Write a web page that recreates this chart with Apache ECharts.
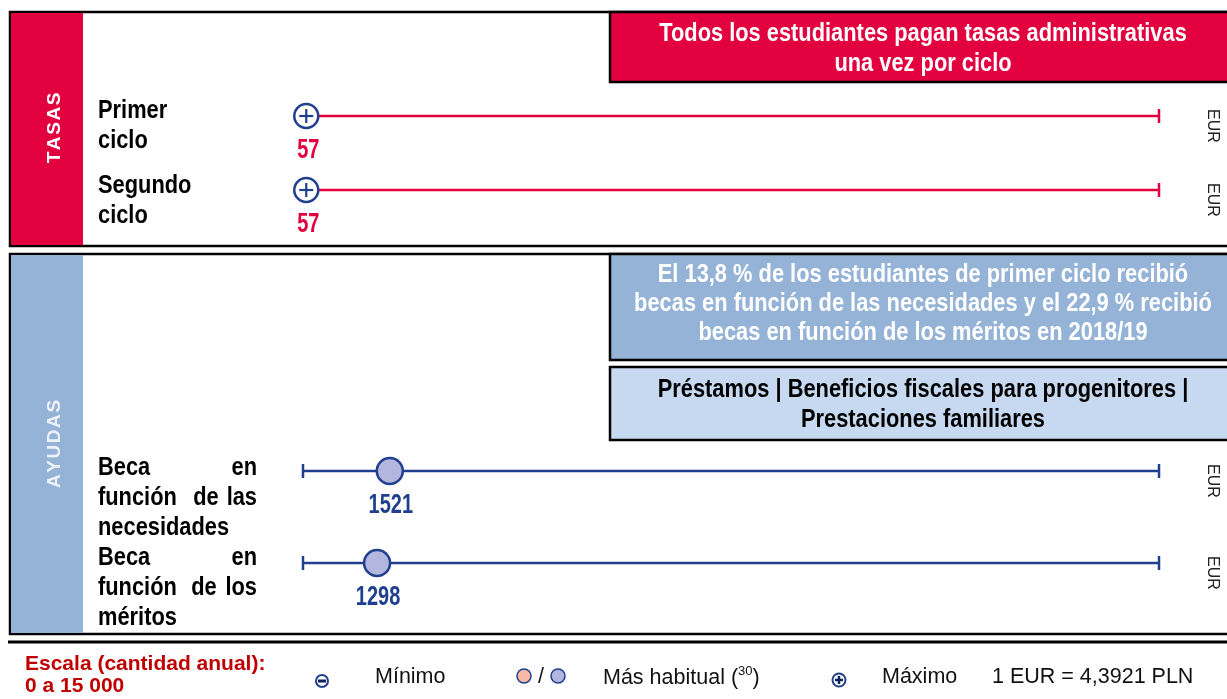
<!DOCTYPE html>
<html>
<head>
<meta charset="utf-8">
<script src="https://cdn.jsdelivr.net/npm/echarts@6/dist/echarts.min.js"></script>
<style>
  html, body { margin: 0; padding: 0; background: #fff; }
  #chart { width: 1227px; height: 699px; }
</style>
</head>
<body>
<div id="chart"></div>
<script>
  // escala común (cantidad anual, EUR)
  var scaleMin = 0
  var scaleMax = 15000
  var currency = 'EUR'

  // TASAS: importe máximo por ciclo
  var tasasRows = ['Primer ciclo', 'Segundo ciclo']
  var tasasMax = [57, 57]

  // AYUDAS: importe más habitual
  var ayudasRows = ['Beca en función de las necesidades', 'Beca en función de los méritos']
  var ayudasHabitual = [1521, 1298]

  var red = '#e2003f'
  var blue = '#213f8f'
  var midBlue = '#95b3d7'
  var lightBlue = '#c6d9f1'
  var sans = '"Liberation Sans", Arial, sans-serif'
  // sin Arial Narrow: Liberation Sans Bold comprimida con scaleX
  var narrowX = 0.84
  var numX = 0.74
  var boxCx = 923

  var chart = echarts.init(document.getElementById('chart'))

  // linea de escala 0..15000 con topes y la etiqueta de moneda
  function renderScale (color, startCap) {
    return function (params, api) {
      var p0 = api.coord([scaleMin, api.value(1)])
      var p1 = api.coord([scaleMax, api.value(1)])
      var children = [
        { type: 'line', shape: { x1: p0[0], y1: p0[1], x2: p1[0], y2: p1[1] }, style: { stroke: color, lineWidth: 2.5 } },
        { type: 'line', shape: { x1: p1[0], y1: p1[1] - 7, x2: p1[0], y2: p1[1] + 7 }, style: { stroke: color, lineWidth: 2.5 } },
        {
          type: 'text', x: p1[0] + 53, y: p1[1] + 10, rotation: -Math.PI / 2,
          style: { text: currency, fill: '#222', font: '16px ' + sans, align: 'center', verticalAlign: 'middle' }
        }
      ]
      if (startCap) {
        children.push({ type: 'line', shape: { x1: p0[0], y1: p0[1] - 7, x2: p0[0], y2: p0[1] + 7 }, style: { stroke: color, lineWidth: 2.5 } })
      }
      return { type: 'group', children: children }
    }
  }

  function valueText (c, v, color, dx) {
    return {
      type: 'text', x: c[0] + dx, y: c[1] + 35, scaleX: numX,
      style: { text: String(v), fill: color, font: 'bold 27px ' + sans, align: 'center', verticalAlign: 'middle' }
    }
  }

  // marcador de maximo (circulo con +) y su valor debajo
  function renderMax (params, api) {
    var c = api.coord([api.value(0), api.value(1)])
    return {
      type: 'group',
      children: [
        { type: 'circle', shape: { cx: c[0], cy: c[1], r: 12 }, style: { fill: '#fff', stroke: blue, lineWidth: 2.5 } },
        { type: 'line', shape: { x1: c[0] - 7, y1: c[1], x2: c[0] + 7, y2: c[1] }, style: { stroke: blue, lineWidth: 2.2 } },
        { type: 'line', shape: { x1: c[0], y1: c[1] - 7, x2: c[0], y2: c[1] + 7 }, style: { stroke: blue, lineWidth: 2.2 } },
        valueText(c, api.value(0), red, 2)
      ]
    }
  }

  // marcador del importe mas habitual y su valor debajo
  function renderHabitual (params, api) {
    var c = api.coord([api.value(0), api.value(1)])
    return {
      type: 'group',
      children: [
        { type: 'circle', shape: { cx: c[0], cy: c[1], r: 13 }, style: { fill: '#b3b6df', stroke: blue, lineWidth: 2.5 } },
        valueText(c, api.value(0), blue, 1)
      ]
    }
  }

  function txt (x, y, text, font, color, align, sx) {
    return {
      type: 'text', x: x, y: y, z: 20, scaleX: sx || 1,
      style: { text: text, font: font, fill: color, align: align || 'left', verticalAlign: 'middle' }
    }
  }
  function row (x, y, text, align) {
    return txt(x, y, text, rowFont, '#000', align, narrowX)
  }

  var rowFont = 'bold 26px ' + sans
  var boxFont = 'bold 26px ' + sans
  var legFont = '21.5px ' + sans
  var hs = '\u200a'

  var graphics = [
    // panel TASAS
    { type: 'rect', z: 0, shape: { x: 10, y: 12, width: 1230, height: 234 }, style: { fill: '#fff', stroke: '#000', lineWidth: 2.5 } },
    { type: 'rect', z: 1, shape: { x: 11, y: 13, width: 72, height: 232 }, style: { fill: red } },
    { type: 'rect', z: 1, shape: { x: 610, y: 12, width: 630, height: 70 }, style: { fill: red, stroke: '#000', lineWidth: 2.5 } },
    { type: 'text', z: 20, x: 55, y: 128, rotation: Math.PI / 2, style: { text: 'TASAS'.split('').join(hs), font: 'bold 19px ' + sans, fill: '#fff', align: 'center', verticalAlign: 'middle' } },
    { type: 'text', z: 20, x: boxCx, y: 49, scaleX: narrowX, style: { text: 'Todos los estudiantes pagan tasas administrativas\nuna vez por ciclo', font: boxFont, lineHeight: 30, fill: '#fff', align: 'center', verticalAlign: 'middle' } },
    // panel AYUDAS
    { type: 'rect', z: 0, shape: { x: 10, y: 254, width: 1230, height: 380 }, style: { fill: '#fff', stroke: '#000', lineWidth: 2.5 } },
    { type: 'rect', z: 1, shape: { x: 11, y: 255, width: 72, height: 378 }, style: { fill: midBlue } },
    { type: 'rect', z: 1, shape: { x: 610, y: 254, width: 630, height: 106 }, style: { fill: midBlue, stroke: '#000', lineWidth: 2.5 } },
    { type: 'rect', z: 1, shape: { x: 610, y: 367, width: 630, height: 73 }, style: { fill: lightBlue, stroke: '#000', lineWidth: 2.5 } },
    { type: 'text', z: 20, x: 55, y: 444, rotation: Math.PI / 2, style: { text: 'AYUDAS'.split('').join(hs), font: 'bold 19px ' + sans, fill: '#eef2f8', align: 'center', verticalAlign: 'middle' } },
    { type: 'text', z: 20, x: boxCx, y: 304, scaleX: narrowX, style: { text: 'El 13,8 % de los estudiantes de primer ciclo recibió\nbecas en función de las necesidades y el 22,9 % recibió\nbecas en función de los méritos en 2018/19', font: boxFont, lineHeight: 29, fill: '#fff', align: 'center', verticalAlign: 'middle' } },
    { type: 'text', z: 20, x: boxCx, y: 405, scaleX: narrowX, style: { text: 'Préstamos | Beneficios fiscales para progenitores |\nPrestaciones familiares', font: boxFont, lineHeight: 30, fill: '#000', align: 'center', verticalAlign: 'middle' } },
    // linea inferior
    { type: 'line', z: 1, shape: { x1: 8, y1: 642, x2: 1227, y2: 642 }, style: { stroke: '#000', lineWidth: 3 } },

    // etiquetas de fila (texto justificado)
    row(98, 111, 'Primer'),
    row(98, 141, 'ciclo'),
    row(98, 186, 'Segundo'),
    row(98, 216, 'ciclo'),
    row(98, 468, 'Beca'),
    row(257, 468, 'en', 'right'),
    row(98, 498, 'función'),
    row(206, 498, 'de', 'center'),
    row(257, 498, 'las', 'right'),
    row(98, 528, 'necesidades'),
    row(98, 558, 'Beca'),
    row(257, 558, 'en', 'right'),
    row(98, 588, 'función'),
    row(204, 588, 'de', 'center'),
    row(257, 588, 'los', 'right'),
    row(98, 618, 'méritos'),

    // leyenda
    txt(25, 664, 'Escala (cantidad anual):', 'bold 21px ' + sans, '#c00000'),
    txt(25, 686, '0 a 15 000', 'bold 21px ' + sans, '#c00000'),
    { type: 'circle', z: 20, shape: { cx: 322, cy: 681, r: 6 }, style: { fill: '#fff', stroke: blue, lineWidth: 2 } },
    { type: 'line', z: 21, shape: { x1: 318, y1: 681, x2: 326, y2: 681 }, style: { stroke: '#10205a', lineWidth: 3 } },
    txt(375, 677, 'Mínimo', legFont, '#111'),
    { type: 'circle', z: 20, shape: { cx: 524, cy: 676, r: 7 }, style: { fill: '#f5b9a6', stroke: blue, lineWidth: 1.5 } },
    txt(541, 677, '/', legFont, '#111', 'center'),
    { type: 'circle', z: 20, shape: { cx: 558, cy: 676, r: 7 }, style: { fill: '#b3b6df', stroke: blue, lineWidth: 1.5 } },
    {
      type: 'text', z: 20, x: 603, y: 677,
      style: {
        text: '{a|Más habitual (}{s|30}{a|)}', fill: '#111', align: 'left', verticalAlign: 'middle',
        rich: {
          a: { font: legFont, lineHeight: 24, verticalAlign: 'bottom' },
          s: { font: '13px ' + sans, lineHeight: 24, verticalAlign: 'top' }
        }
      }
    },
    { type: 'circle', z: 20, shape: { cx: 839, cy: 680, r: 6.5 }, style: { fill: '#fff', stroke: blue, lineWidth: 2 } },
    { type: 'line', z: 21, shape: { x1: 835, y1: 680, x2: 843, y2: 680 }, style: { stroke: '#10205a', lineWidth: 2.5 } },
    { type: 'line', z: 21, shape: { x1: 839, y1: 676, x2: 839, y2: 684 }, style: { stroke: '#10205a', lineWidth: 2.5 } },
    txt(882, 677, 'Máximo', legFont, '#111'),
    txt(992, 677, '1 EUR = 4,3921 PLN', legFont, '#111')
  ]

  var axisOff = { show: false }

  chart.setOption({
    backgroundColor: '#fff',
    animation: false,
    grid: [
      { left: 303, right: 68, top: 79, height: 148 },
      { left: 303, right: 68, top: 425, height: 184 }
    ],
    xAxis: [
      { gridIndex: 0, type: 'value', min: scaleMin, max: scaleMax, axisLine: axisOff, axisTick: axisOff, axisLabel: axisOff, splitLine: axisOff },
      { gridIndex: 1, type: 'value', min: scaleMin, max: scaleMax, axisLine: axisOff, axisTick: axisOff, axisLabel: axisOff, splitLine: axisOff }
    ],
    yAxis: [
      { gridIndex: 0, type: 'category', inverse: true, data: tasasRows, axisLine: axisOff, axisTick: axisOff, axisLabel: axisOff },
      { gridIndex: 1, type: 'category', inverse: true, data: ayudasRows, axisLine: axisOff, axisTick: axisOff, axisLabel: axisOff }
    ],
    graphic: graphics,
    series: [
      {
        type: 'custom', xAxisIndex: 0, yAxisIndex: 0, z: 3,
        renderItem: renderScale(red, false),
        data: tasasRows.map(function (r) { return [scaleMax, r] })
      },
      {
        type: 'custom', xAxisIndex: 0, yAxisIndex: 0, z: 5,
        renderItem: renderMax,
        data: tasasRows.map(function (r, i) { return [tasasMax[i], r] })
      },
      {
        type: 'custom', xAxisIndex: 1, yAxisIndex: 1, z: 3,
        renderItem: renderScale(blue, true),
        data: ayudasRows.map(function (r) { return [scaleMax, r] })
      },
      {
        type: 'custom', xAxisIndex: 1, yAxisIndex: 1, z: 5,
        renderItem: renderHabitual,
        data: ayudasRows.map(function (r, i) { return [ayudasHabitual[i], r] })
      }
    ]
  })
</script>
</body>
</html>
